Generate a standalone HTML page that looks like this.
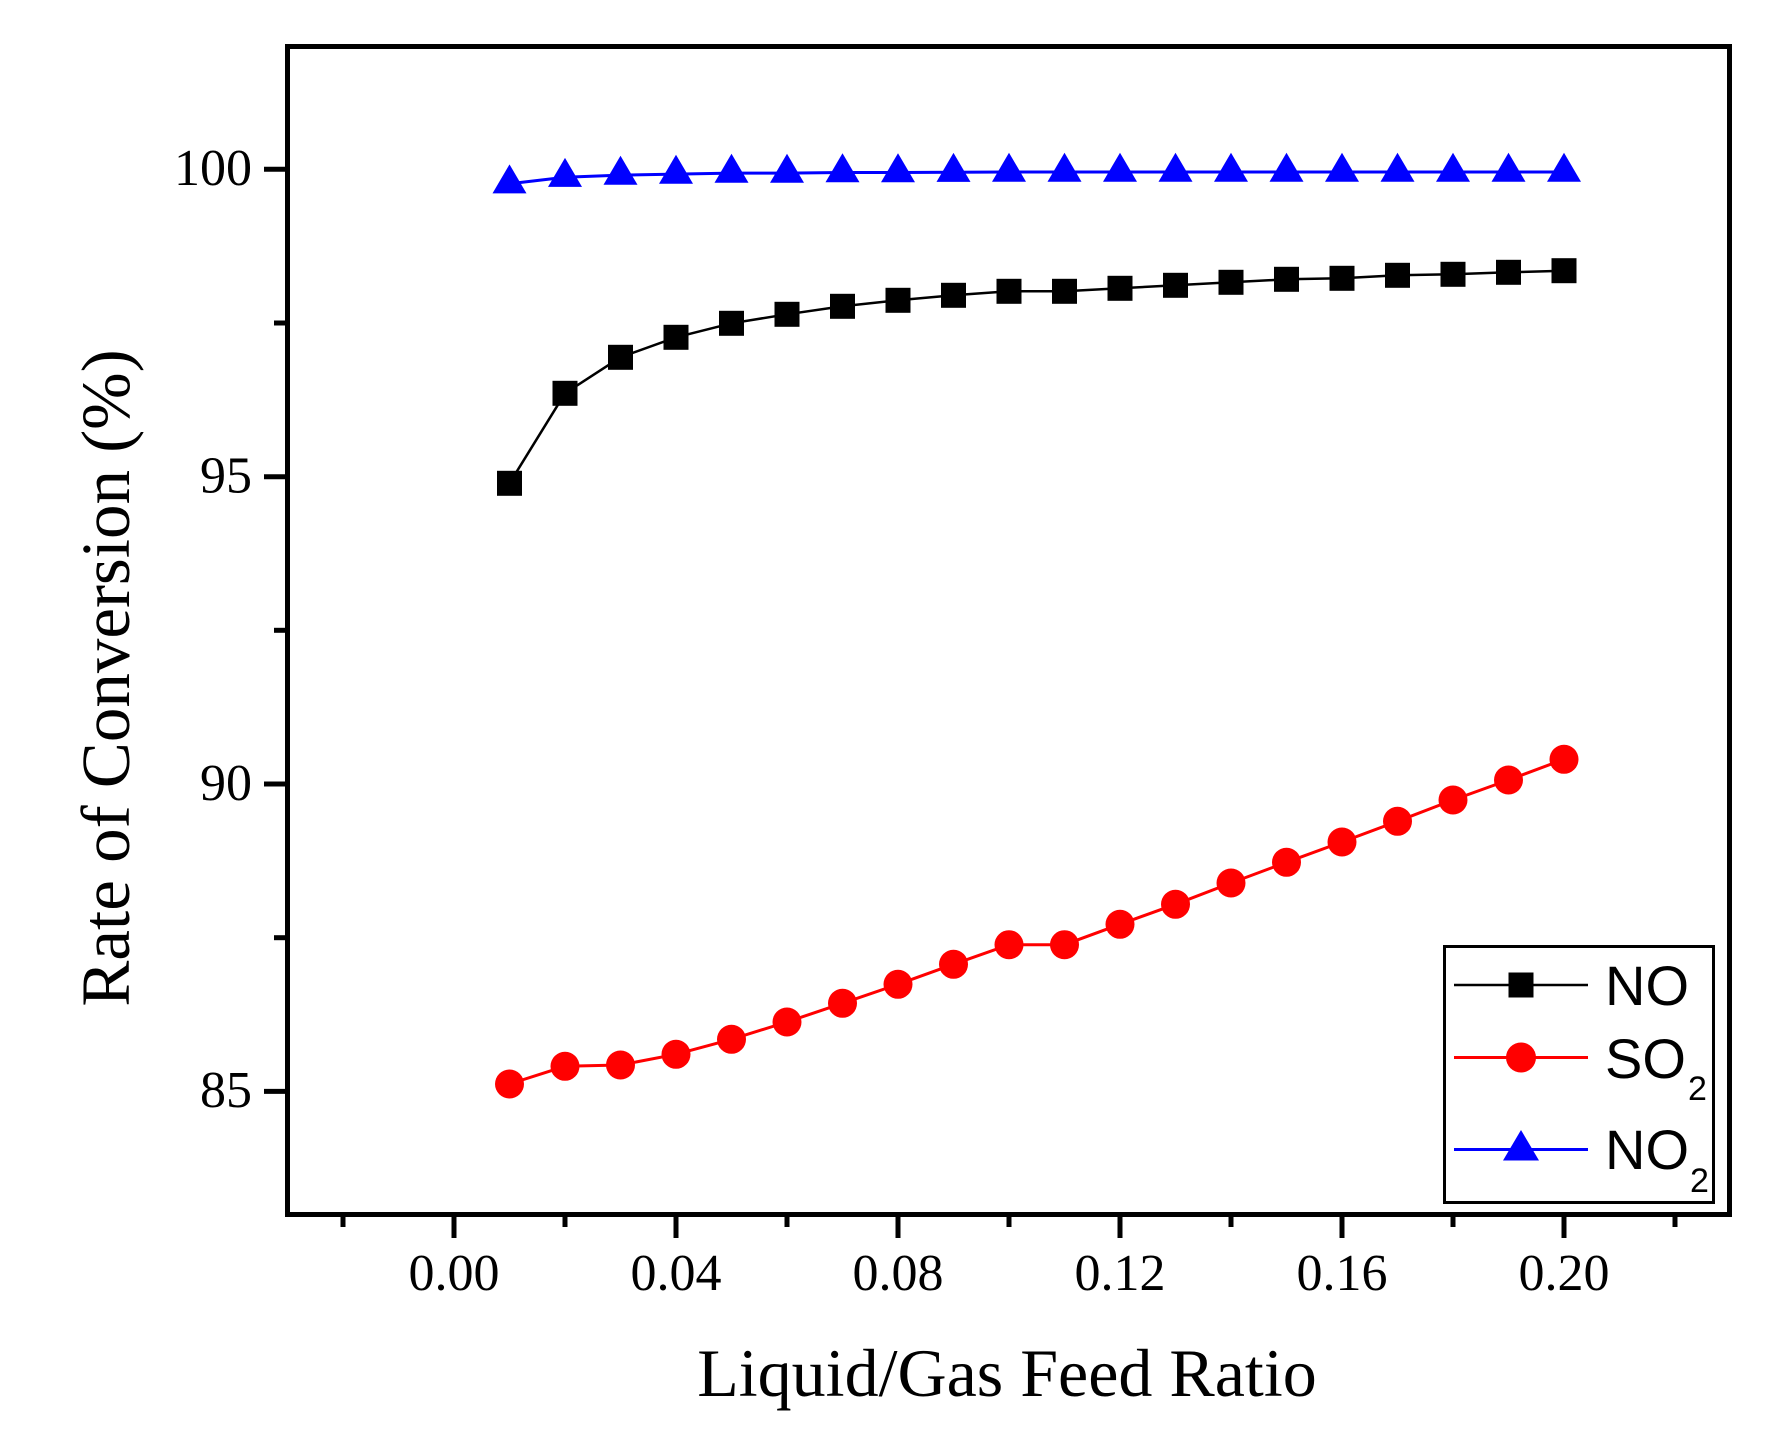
<!DOCTYPE html>
<html>
<head>
<meta charset="utf-8">
<style>
html,body{margin:0;padding:0;background:#fff;}
svg{display:block;}
text{font-family:"Liberation Serif","Times New Roman",serif;fill:#000;}
.sans{font-family:"Liberation Sans",Arial,sans-serif;}
</style>
</head>
<body>
<svg width="1791" height="1446" viewBox="0 0 1791 1446" xmlns="http://www.w3.org/2000/svg">
<defs>
  <path id="tri" d="M0 -19.3 L17 9.7 L-17 9.7 Z" fill="#0000ff"/>
  <rect id="sq" x="-12.5" y="-12.5" width="25" height="25" fill="#000"/>
  <circle id="ci" cx="0" cy="0" r="14.5" fill="#ff0000"/>
</defs>
<rect width="1791" height="1446" fill="#fff"/>

<!-- ticks Y -->
<g stroke="#000" stroke-width="5">
  <line x1="264" y1="169.3" x2="288" y2="169.3"/>
  <line x1="264" y1="476.7" x2="288" y2="476.7"/>
  <line x1="264" y1="784" x2="288" y2="784"/>
  <line x1="264" y1="1091.4" x2="288" y2="1091.4"/>
  <line x1="274" y1="323" x2="288" y2="323"/>
  <line x1="274" y1="630.3" x2="288" y2="630.3"/>
  <line x1="274" y1="937.7" x2="288" y2="937.7"/>
  <!-- ticks X major -->
  <line x1="454" y1="1214" x2="454" y2="1238"/>
  <line x1="676" y1="1214" x2="676" y2="1238"/>
  <line x1="898" y1="1214" x2="898" y2="1238"/>
  <line x1="1120" y1="1214" x2="1120" y2="1238"/>
  <line x1="1342" y1="1214" x2="1342" y2="1238"/>
  <line x1="1564" y1="1214" x2="1564" y2="1238"/>
  <!-- minor -->
  <line x1="343" y1="1214" x2="343" y2="1227"/>
  <line x1="565" y1="1214" x2="565" y2="1227"/>
  <line x1="787" y1="1214" x2="787" y2="1227"/>
  <line x1="1009" y1="1214" x2="1009" y2="1227"/>
  <line x1="1231" y1="1214" x2="1231" y2="1227"/>
  <line x1="1453" y1="1214" x2="1453" y2="1227"/>
  <line x1="1675" y1="1214" x2="1675" y2="1227"/>
</g>

<!-- tick labels -->
<g font-size="52" text-anchor="end">
  <text x="252" y="185">100</text>
  <text x="252" y="492.5">95</text>
  <text x="252" y="800">90</text>
  <text x="252" y="1107">85</text>
</g>
<g font-size="52" text-anchor="middle">
  <text x="454" y="1290">0.00</text>
  <text x="676" y="1290">0.04</text>
  <text x="898" y="1290">0.08</text>
  <text x="1120" y="1290">0.12</text>
  <text x="1342" y="1290">0.16</text>
  <text x="1564" y="1290">0.20</text>
</g>

<!-- axis titles -->
<text x="1007" y="1396" font-size="68" text-anchor="middle">Liquid/Gas Feed Ratio</text>
<text transform="translate(129,678) rotate(-90)" font-size="69" text-anchor="middle">Rate of Conversion (%)</text>

<!-- series lines -->
<polyline fill="none" stroke="#0000ff" stroke-width="3" points="509.5,183.7 565,177.2 620.5,175.1 676,174.1 731.5,173.1 787,173.1 842.5,172.5 898,172.5 953.5,172.2 1009,172 1064.5,172 1120,172 1175.5,172 1231,172 1286.5,172 1342,172 1397.5,172 1453,172 1508.5,172 1564,172"/>
<polyline fill="none" stroke="#000" stroke-width="2.5" points="509.5,483.3 565,393.3 620.5,357.3 676,337.3 731.5,323.3 787,314.3 842.5,306.3 898,300.3 953.5,295.3 1009,291.3 1064.5,291.3 1120,288.3 1175.5,285.3 1231,282.3 1286.5,279.3 1342,278.3 1397.5,275.3 1453,274.3 1508.5,272.3 1564,270.7"/>
<polyline fill="none" stroke="#ff0000" stroke-width="3" points="509.5,1084 565,1066.3 620.5,1065 676,1054.3 731.5,1039.3 787,1022 842.5,1003.3 898,984.3 953.5,964.3 1009,944.7 1064.5,944.7 1120,924.3 1175.5,904.3 1231,883 1286.5,862.3 1342,842 1397.5,821.3 1453,800 1508.5,780 1564,759.3"/>

<!-- NO2 markers -->
<use href="#tri" x="509.5" y="183.7"/>
<use href="#tri" x="565" y="177.2"/>
<use href="#tri" x="620.5" y="175.1"/>
<use href="#tri" x="676" y="174.1"/>
<use href="#tri" x="731.5" y="173.1"/>
<use href="#tri" x="787" y="173.1"/>
<use href="#tri" x="842.5" y="172.5"/>
<use href="#tri" x="898" y="172.5"/>
<use href="#tri" x="953.5" y="172.2"/>
<use href="#tri" x="1009" y="172"/>
<use href="#tri" x="1064.5" y="172"/>
<use href="#tri" x="1120" y="172"/>
<use href="#tri" x="1175.5" y="172"/>
<use href="#tri" x="1231" y="172"/>
<use href="#tri" x="1286.5" y="172"/>
<use href="#tri" x="1342" y="172"/>
<use href="#tri" x="1397.5" y="172"/>
<use href="#tri" x="1453" y="172"/>
<use href="#tri" x="1508.5" y="172"/>
<use href="#tri" x="1564" y="172"/>

<!-- NO markers -->
<use href="#sq" x="509.5" y="483.3"/>
<use href="#sq" x="565" y="393.3"/>
<use href="#sq" x="620.5" y="357.3"/>
<use href="#sq" x="676" y="337.3"/>
<use href="#sq" x="731.5" y="323.3"/>
<use href="#sq" x="787" y="314.3"/>
<use href="#sq" x="842.5" y="306.3"/>
<use href="#sq" x="898" y="300.3"/>
<use href="#sq" x="953.5" y="295.3"/>
<use href="#sq" x="1009" y="291.3"/>
<use href="#sq" x="1064.5" y="291.3"/>
<use href="#sq" x="1120" y="288.3"/>
<use href="#sq" x="1175.5" y="285.3"/>
<use href="#sq" x="1231" y="282.3"/>
<use href="#sq" x="1286.5" y="279.3"/>
<use href="#sq" x="1342" y="278.3"/>
<use href="#sq" x="1397.5" y="275.3"/>
<use href="#sq" x="1453" y="274.3"/>
<use href="#sq" x="1508.5" y="272.3"/>
<use href="#sq" x="1564" y="270.7"/>

<!-- SO2 markers -->
<use href="#ci" x="509.5" y="1084"/>
<use href="#ci" x="565" y="1066.3"/>
<use href="#ci" x="620.5" y="1065"/>
<use href="#ci" x="676" y="1054.3"/>
<use href="#ci" x="731.5" y="1039.3"/>
<use href="#ci" x="787" y="1022"/>
<use href="#ci" x="842.5" y="1003.3"/>
<use href="#ci" x="898" y="984.3"/>
<use href="#ci" x="953.5" y="964.3"/>
<use href="#ci" x="1009" y="944.7"/>
<use href="#ci" x="1064.5" y="944.7"/>
<use href="#ci" x="1120" y="924.3"/>
<use href="#ci" x="1175.5" y="904.3"/>
<use href="#ci" x="1231" y="883"/>
<use href="#ci" x="1286.5" y="862.3"/>
<use href="#ci" x="1342" y="842"/>
<use href="#ci" x="1397.5" y="821.3"/>
<use href="#ci" x="1453" y="800"/>
<use href="#ci" x="1508.5" y="780"/>
<use href="#ci" x="1564" y="759.3"/>

<!-- legend -->
<rect x="1444.5" y="946.5" width="269" height="256" fill="#fff" stroke="#000" stroke-width="3"/>
<line x1="1454" y1="985" x2="1588" y2="985" stroke="#000" stroke-width="2.5"/>
<use href="#sq" x="1521" y="985"/>
<line x1="1454" y1="1057.5" x2="1588" y2="1057.5" stroke="#ff0000" stroke-width="3"/>
<circle cx="1521" cy="1057.5" r="15" fill="#ff0000"/>
<line x1="1454" y1="1149.5" x2="1588" y2="1149.5" stroke="#0000ff" stroke-width="3"/>
<path d="M1521 1130 L1539 1160.5 L1503 1160.5 Z" fill="#0000ff"/>
<g class="sans" font-size="56">
  <text class="sans" x="1605" y="1005">NO</text>
  <text class="sans" x="1605" y="1078">SO</text>
  <text class="sans" x="1688" y="1100" font-size="34">2</text>
  <text class="sans" x="1605" y="1169">NO</text>
  <text class="sans" x="1690" y="1192" font-size="34">2</text>
</g>

<!-- frame -->
<rect x="287.5" y="46.5" width="1442" height="1168" fill="none" stroke="#000" stroke-width="5"/>
</svg>
</body>
</html>
